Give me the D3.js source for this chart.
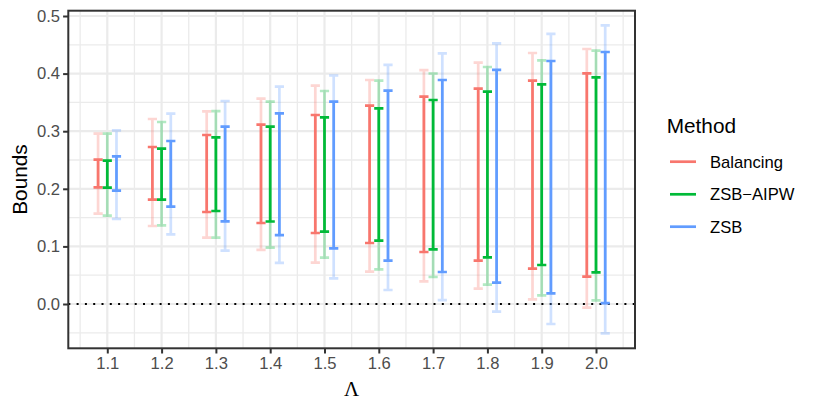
<!DOCTYPE html>
<html><head><meta charset="utf-8">
<script src="https://cdn.jsdelivr.net/npm/d3@7"></script>
<style>
html,body{margin:0;padding:0;background:#fff;}
text{font-family:"Liberation Sans",Arial,Helvetica,sans-serif;}
</style></head>
<body><svg id="chart" width="817" height="409"></svg>
<script>
const lambdas = [1.1,1.2,1.3,1.4,1.5,1.6,1.7,1.8,1.9,2.0];
const methods = ["Balancing","ZSB\u2212AIPW","ZSB"];
const colors = ["#F8766D","#00BA38","#619CFF"];
const yTicks = [0.0,0.1,0.2,0.3,0.4,0.5];

// Balancing
const balInnerLo = [0.2026,0.1811,0.1597,0.1406,0.1233,0.1059,0.0903,0.0752,0.0613,0.0475];
const balInnerHi = [0.2505,0.2726,0.2934,0.3113,0.3281,0.3443,0.3599,0.3738,0.3877,0.4005];
const balOuterLo = [0.1568,0.1354,0.1152,0.0938,0.0718,0.0561,0.0394,0.0266,0.0082,-0.0064];
const balOuterHi = [0.2957,0.3212,0.3345,0.3565,0.3790,0.3889,0.4060,0.4190,0.4358,0.4427];
// ZSB-AIPW
const aipwInnerLo = [0.2020,0.1811,0.1615,0.1432,0.1256,0.1099,0.0950,0.0810,0.0677,0.0550];
const aipwInnerHi = [0.2488,0.2697,0.2894,0.3079,0.3241,0.3397,0.3542,0.3686,0.3814,0.3935];
const aipwOuterLo = [0.1533,0.1366,0.1152,0.0978,0.0804,0.0602,0.0469,0.0336,0.0150,0.0064];
const aipwOuterHi = [0.2957,0.3160,0.3350,0.3513,0.3698,0.3877,0.4002,0.4115,0.4231,0.4398];
// ZSB
const zsbInnerLo = [0.1968,0.1690,0.1435,0.1195,0.0967,0.0752,0.0556,0.0370,0.0185,0.0017];
const zsbInnerHi = [0.2564,0.2830,0.3079,0.3310,0.3513,0.3703,0.3889,0.4063,0.4219,0.4375];
const zsbOuterLo = [0.1476,0.1210,0.0926,0.0715,0.0446,0.0243,0.0069,-0.0133,-0.0347,-0.0509];
const zsbOuterHi = [0.3015,0.3304,0.3524,0.3773,0.3967,0.4150,0.4352,0.4525,0.4688,0.4838];

const series = [
  {m:0, inLo:balInnerLo, inHi:balInnerHi, outLo:balOuterLo, outHi:balOuterHi},
  {m:1, inLo:aipwInnerLo, inHi:aipwInnerHi, outLo:aipwOuterLo, outHi:aipwOuterHi},
  {m:2, inLo:zsbInnerLo, inHi:zsbInnerHi, outLo:zsbOuterLo, outHi:zsbOuterHi}
];

const P = {l:68.3, r:635, t:10.7, b:348.3};
const svg = d3.select("#chart");
const x = d3.scaleLinear().domain([1.0282,2.0718]).range([P.l,P.r]);
const y = d3.scaleLinear().domain([-0.0769,0.5092]).range([P.b,P.t]);
const dodge = d3.scalePoint().domain(d3.range(methods.length)).range([-9.2,9.2]);

const grid = svg.append("g");
// minor grid
const xMinor = lambdas.map(v=>v-0.05).concat([2.05]);
const yMinor = d3.range(-0.05,0.5,0.1);
grid.selectAll(".xm").data(xMinor).enter().append("line")
  .attr("x1",d=>x(d)).attr("x2",d=>x(d)).attr("y1",P.t).attr("y2",P.b)
  .attr("stroke","#EBEBEB").attr("stroke-width",1.3);
grid.selectAll(".ym").data(yMinor).enter().append("line")
  .attr("y1",d=>y(d)).attr("y2",d=>y(d)).attr("x1",P.l).attr("x2",P.r)
  .attr("stroke","#EBEBEB").attr("stroke-width",1.3);
grid.selectAll(".xM").data(lambdas).enter().append("line")
  .attr("x1",d=>x(d)).attr("x2",d=>x(d)).attr("y1",P.t).attr("y2",P.b)
  .attr("stroke","#EBEBEB").attr("stroke-width",2.2);
grid.selectAll(".yM").data(yTicks).enter().append("line")
  .attr("y1",d=>y(d)).attr("y2",d=>y(d)).attr("x1",P.l).attr("x2",P.r)
  .attr("stroke","#EBEBEB").attr("stroke-width",2.2);

// dotted zero line
svg.append("line").attr("x1",P.l).attr("x2",P.r).attr("y1",y(0)).attr("y2",y(0))
  .attr("stroke","#000").attr("stroke-width",2).attr("stroke-dasharray","2,6.3");

const capW = 4.6;
function drawBars(g, s, lo, hi, color, opacity){
  lambdas.forEach((lam,i)=>{
    const cx = x(lam)+dodge(s.m);
    const gg = g.append("g").attr("stroke",color).attr("stroke-opacity",opacity).attr("stroke-width",2.7).attr("fill","none");
    gg.append("path").attr("d",
      `M${cx-capW},${y(hi[i])}H${cx+capW}M${cx},${y(hi[i])}V${y(lo[i])}M${cx-capW},${y(lo[i])}H${cx+capW}`);
  });
}
const light = svg.append("g");
const dark = svg.append("g");
series.forEach(s=>drawBars(light, s, s.outLo, s.outHi, colors[s.m], 0.3));
series.forEach(s=>drawBars(dark, s, s.inLo, s.inHi, colors[s.m], 1));

// panel border
svg.append("rect").attr("x",P.l).attr("y",P.t).attr("width",P.r-P.l).attr("height",P.b-P.t)
  .attr("fill","none").attr("stroke","#333333").attr("stroke-width",2);

// axes
const xAxis = svg.append("g").attr("transform",`translate(0,${P.b})`)
  .call(d3.axisBottom(x).tickValues(lambdas).tickFormat(d3.format(".1f")).tickSize(5.2).tickPadding(4));
const yAxis = svg.append("g").attr("transform",`translate(${P.l},0)`)
  .call(d3.axisLeft(y).tickValues(yTicks).tickFormat(d3.format(".1f")).tickSize(5.2).tickPadding(3));
[xAxis,yAxis].forEach(a=>{
  a.select(".domain").remove();
  a.selectAll(".tick line").attr("stroke","#333333").attr("stroke-width",2);
  a.selectAll(".tick text").attr("fill","#4D4D4D").style("font-size","16.6px")
    .style("font-family","'Liberation Sans',Arial,sans-serif");
});

// axis titles
svg.append("text").attr("transform",`translate(27,${(P.t+P.b)/2}) rotate(-90)`)
  .attr("text-anchor","middle").style("font-size","20.8px").attr("fill","#000").text("Bounds");
svg.append("text").attr("x",(P.l+P.r)/2).attr("y",396).attr("text-anchor","middle")
  .style("font-family","'Liberation Serif','DejaVu Serif',serif").style("font-size","20.8px").attr("fill","#000").text("\u039B");

// legend
const leg = svg.append("g");
leg.append("text").attr("x",666.7).attr("y",133.3).style("font-size","20.8px").attr("fill","#000").text("Method");
const keyY = [161.7,194.3,226.7];
methods.forEach((m,i)=>{
  leg.append("line").attr("x1",670).attr("x2",696).attr("y1",keyY[i]).attr("y2",keyY[i])
    .attr("stroke",colors[i]).attr("stroke-width",2.7);
  leg.append("text").attr("x",710).attr("y",keyY[i]).attr("dy","0.35em")
    .style("font-size","16.6px").attr("fill","#000").text(m);
});
</script></body></html>
